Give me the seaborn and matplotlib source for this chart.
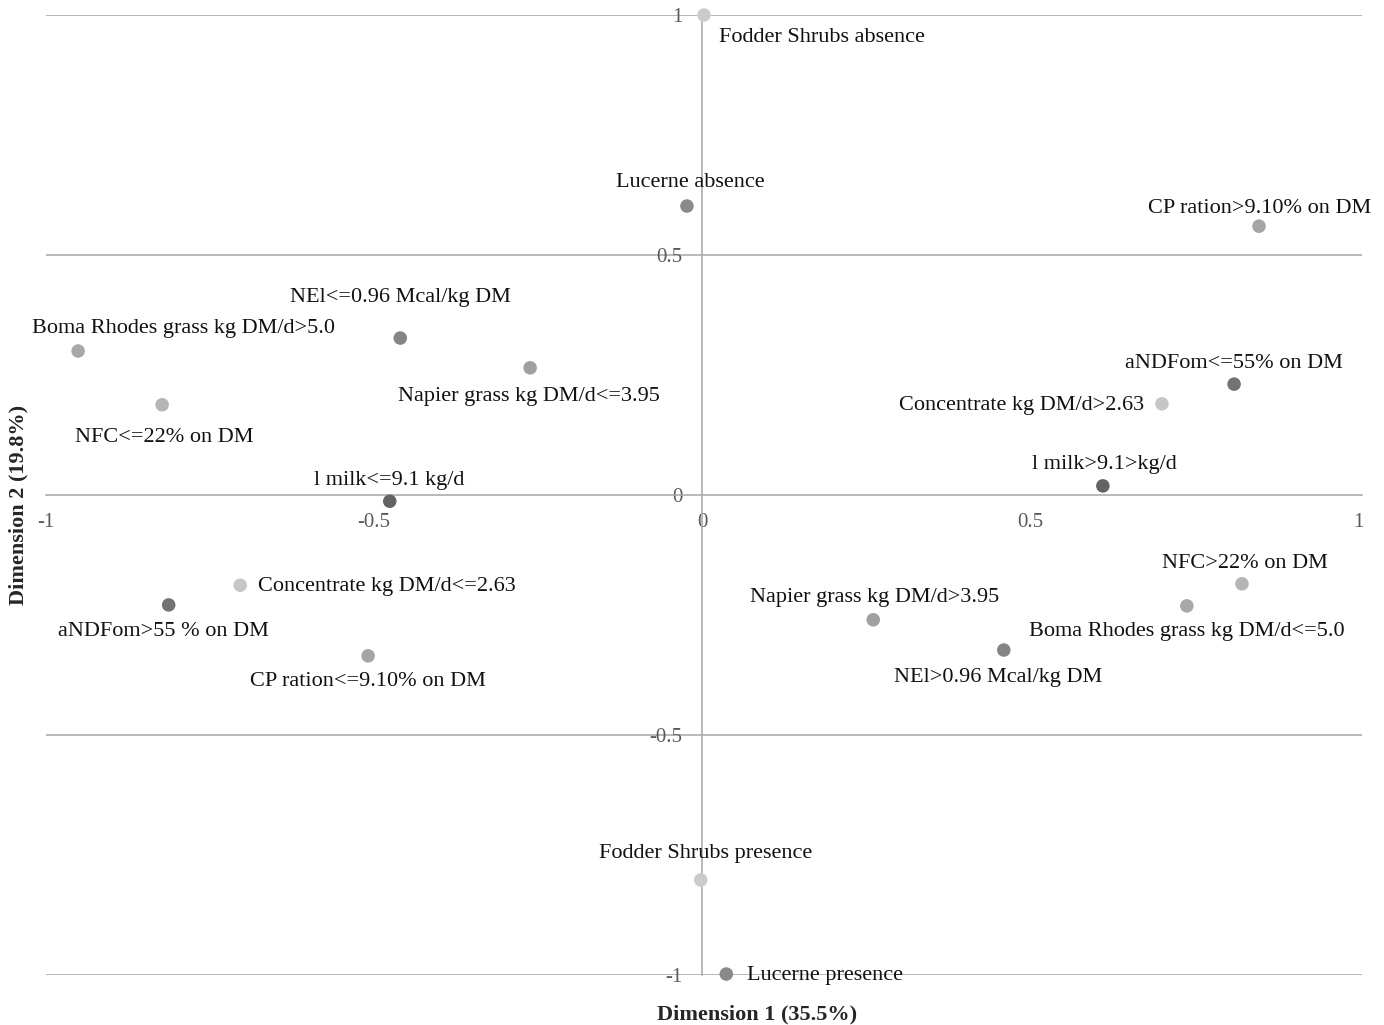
"""
Correspondence analysis map of ration / milk categories (Dimension 1 vs Dimension 2)
"""

import pandas as pd
import seaborn as sns
import matplotlib.pyplot as plt

sns.set_style('white')
plt.rcParams['font.family'] = ['Liberation Serif', 'DejaVu Serif']

# Data

Labels = ['Fodder Shrubs absence', 'Lucerne absence', 'CP ration>9.10% on DM',
          'NEl<=0.96 Mcal/kg DM', 'Boma Rhodes grass kg DM/d>5.0', 'Napier grass kg DM/d<=3.95',
          'NFC<=22% on DM', 'aNDFom<=55% on DM', 'Concentrate kg DM/d>2.63',
          'l milk>9.1>kg/d', 'l milk<=9.1 kg/d', 'Concentrate kg DM/d<=2.63',
          'aNDFom>55 % on DM', 'CP ration<=9.10% on DM', 'NFC>22% on DM',
          'Boma Rhodes grass kg DM/d<=5.0', 'Napier grass kg DM/d>3.95', 'NEl>0.96 Mcal/kg DM',
          'Fodder Shrubs presence', 'Lucerne presence']
Dim1 = [0.003, -0.023, 0.849, -0.460, -0.951, -0.262, -0.823, 0.811, 0.701, 0.611,
        -0.476, -0.704, -0.813, -0.509, 0.823, 0.739, 0.261, 0.460, -0.002, 0.037]
Dim2 = [1.000, 0.602, 0.560, 0.327, 0.300, 0.265, 0.188, 0.231, 0.190, 0.019,
        -0.013, -0.188, -0.229, -0.335, -0.185, -0.231, -0.260, -0.323, -0.802, -0.998]
Variable = ['Fodder Shrubs', 'Lucerne', 'CP ration', 'NEl', 'Boma Rhodes grass', 'Napier grass',
            'NFC', 'aNDFom', 'Concentrate', 'l milk', 'l milk', 'Concentrate',
            'aNDFom', 'CP ration', 'NFC', 'Boma Rhodes grass', 'Napier grass', 'NEl',
            'Fodder Shrubs', 'Lucerne']

df = pd.DataFrame({'Label': Labels, 'Dim1': Dim1, 'Dim2': Dim2, 'Variable': Variable})

# Styling

Palette = {'Fodder Shrubs': '#cbcbcb', 'Lucerne': '#8a8a8a', 'CP ration': '#a5a5a5',
           'NEl': '#858585', 'Boma Rhodes grass': '#a8a8a8', 'Napier grass': '#a0a0a0',
           'NFC': '#b5b5b5', 'aNDFom': '#737373', 'Concentrate': '#c6c6c6', 'l milk': '#636363'}

# label offsets in pixels (dx, dy) and horizontal alignment
LabelPos = {
    'Fodder Shrubs absence': (15, -20, 'left'),
    'Lucerne absence': (3, 27, 'center'),
    'CP ration>9.10% on DM': (1, 21, 'center'),
    'NEl<=0.96 Mcal/kg DM': (0, 44, 'center'),
    'Boma Rhodes grass kg DM/d>5.0': (105, 25, 'center'),
    'Napier grass kg DM/d<=3.95': (-1, -26, 'center'),
    'NFC<=22% on DM': (2, -30, 'center'),
    'aNDFom<=55% on DM': (0, 24, 'center'),
    'Concentrate kg DM/d>2.63': (-18, 1, 'right'),
    'l milk>9.1>kg/d': (2, 24, 'center'),
    'l milk<=9.1 kg/d': (-1, 24, 'center'),
    'Concentrate kg DM/d<=2.63': (18, 2, 'left'),
    'aNDFom>55 % on DM': (-5, -24, 'center'),
    'CP ration<=9.10% on DM': (0, -23, 'center'),
    'NFC>22% on DM': (3, 23, 'center'),
    'Boma Rhodes grass kg DM/d<=5.0': (0, -23, 'center'),
    'Napier grass kg DM/d>3.95': (1, 25, 'center'),
    'NEl>0.96 Mcal/kg DM': (-6, -24, 'center'),
    'Fodder Shrubs presence': (5, 29, 'center'),
    'Lucerne presence': (21, 2, 'left'),
}

fig = plt.figure(figsize=(13.84, 10.25), dpi=100)
ax = fig.add_axes([46 / 1384, 1 - 975 / 1025, 1316 / 1384, 960 / 1025])

# Horizontal reference lines
for yv in [1, 0.5, -0.5, -1]:
    ax.axhline(yv, color='#a6a6a6', lw=1.1, zorder=0)

sns.scatterplot(data=df, x='Dim1', y='Dim2', hue='Variable', palette=Palette,
                s=95, edgecolor='none', legend=False, zorder=3, ax=ax)
ax.collections[0].set_clip_on(False)

for _, row in df.iterrows():
    dx, dy, ha = LabelPos[row['Label']]
    ax.annotate(row['Label'], (row['Dim1'], row['Dim2']), xytext=(dx, dy - 3),
                textcoords='offset pixels', ha=ha, va='center', fontsize=16, color='#111111')

ax.set_xlim(-1, 1.006)
ax.set_ylim(-1, 1)

# Axes crossing at the origin
for s in ['top', 'right']:
    ax.spines[s].set_visible(False)
ax.spines['bottom'].set_position(('data', 0))
ax.spines['left'].set_position(('data', 0))
ax.spines['bottom'].set_color('#a6a6a6')
ax.spines['left'].set_color('#a6a6a6')
ax.spines['bottom'].set_linewidth(1.1)
ax.spines['left'].set_linewidth(1.1)

ax.set_xticks([-1, -0.5, 0, 0.5, 1])
ax.set_xticklabels(['-1', '-0.5', '0', '0.5', '1'])
ax.set_yticks([-1, -0.5, 0, 0.5, 1])
ax.set_yticklabels(['-1', '-0.5', '0', '0.5', '1'])
ax.tick_params(axis='x', direction='out', length=5, width=1, color='#a6a6a6',
               labelsize=15, labelcolor='#595959', pad=8)
ax.tick_params(axis='y', length=0, labelsize=15, labelcolor='#595959', pad=14)
ax.set_xlabel('')
ax.set_ylabel('')

fig.text(757 / 1384, 1 - 1014 / 1025, 'Dimension 1 (35.5%)', ha='center', va='center',
         fontsize=16, fontweight='bold')
fig.text(18 / 1384, 1 - 505 / 1025, 'Dimension 2 (19.8%)', ha='center', va='center',
         rotation=90, fontsize=16, fontweight='bold')

plt.savefig('out.png', dpi=100)
